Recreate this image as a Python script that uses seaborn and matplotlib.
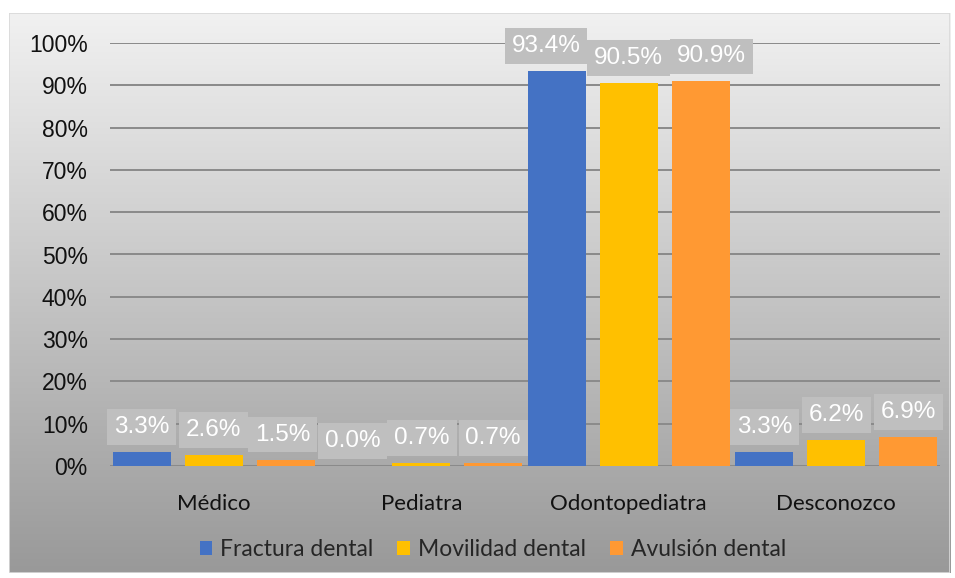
import numpy as np
import pandas as pd
import matplotlib
matplotlib.use("Agg")
import matplotlib.pyplot as plt
from matplotlib.patches import Patch, Rectangle
import seaborn as sns

categories = ["Médico", "Pediatra", "Odontopediatra", "Desconozco"]
series = ["Fractura dental", "Movilidad dental", "Avulsión dental"]
fractura = [3.3, 0.0, 93.4, 3.3]
movilidad = [2.6, 0.7, 90.5, 6.2]
avulsion = [1.5, 0.7, 90.9, 6.9]
colors = ["#4472C4", "#FFC000", "#FF9933"]
yticks = [0, 10, 20, 30, 40, 50, 60, 70, 80, 90, 100]
ytick_labels = [f"{v}%" for v in yticks]

rows = []
for s, vals in zip(series, [fractura, movilidad, avulsion]):
    for c, v in zip(categories, vals):
        rows.append({"cat": c, "serie": s, "val": v})
df = pd.DataFrame(rows)

sns.set_theme(style="white")
plt.rcParams["font.family"] = ["Liberation Sans", "DejaVu Sans"]

DPI = 100
W, H = 955, 578
fig = plt.figure(figsize=(W / DPI, H / DPI), dpi=DPI)
fig.patch.set_facecolor("white")

# gradient background of chart area
bx0, by0, bx1, by1 = 9, 13, 950, 573
bg = fig.add_axes([bx0 / W, 1 - by1 / H, (bx1 - bx0) / W, (by1 - by0) / H], zorder=-10)
grad = np.linspace(0, 1, 256).reshape(-1, 1)
top = np.array([0.945, 0.945, 0.945])
bot = np.array([0.60, 0.60, 0.60])
img = top[None, None, :] * (1 - grad[:, :, None]) + bot[None, None, :] * grad[:, :, None]
bg.imshow(img, aspect="auto", extent=[0, 1, 0, 1], origin="upper")
bg.set_xlim(0, 1); bg.set_ylim(0, 1)
bg.set_axis_off()
bg.add_patch(Rectangle((0, 0), 1, 1, transform=bg.transAxes, fill=False,
                       ec="#d9d9d9", lw=1.2))

ax_l, ax_r, ax_t, ax_b = 110, 940, 43, 466
ax = fig.add_axes([ax_l / W, 1 - ax_b / H, (ax_r - ax_l) / W, (ax_b - ax_t) / H], zorder=1)
ax.set_facecolor("none")

sns.barplot(data=df, x="cat", y="val", hue="serie", order=categories,
            hue_order=series, palette=colors, width=1.04, gap=0.19,
            saturation=1, ax=ax, legend=False, zorder=3,
            edgecolor="none", linewidth=0)

ax.set_ylim(0, 100)
ax.set_xlim(-0.5, 3.5)
ax.set_yticks(yticks)
ax.set_yticklabels(ytick_labels, fontsize=16.5, color="#111111")
ax.tick_params(axis="y", length=0, pad=16)
ax.tick_params(axis="x", length=0, pad=20)
ax.set_xticks(range(len(categories)))
ax.set_xticklabels(categories, fontsize=16, fontfamily=["Lato", "DejaVu Sans"], color="#111111")
ax.set_xlabel(""); ax.set_ylabel("")
for sp in ax.spines.values():
    sp.set_visible(False)
ax.yaxis.grid(True, color="#8a8a8a", lw=1.4, zorder=0)
ax.set_axisbelow(True)

# data labels
texts = []
for cont, vals in zip(ax.containers, [fractura, movilidad, avulsion]):
    for bar, v in zip(cont, vals):
        x = bar.get_x() + bar.get_width() / 2
        y = bar.get_height()
        t = ax.annotate(f"{v:.1f}%", xy=(x, y), xytext=(0, 18), textcoords="offset points",
                        ha="center", va="center", fontsize=17.5, color="white",
                        bbox=dict(boxstyle="square,pad=0.28", fc="#bfbfbf", ec="none"),
                        annotation_clip=False, zorder=5)
        texts.append(t)

# simple de-overlap of label boxes
fig.canvas.draw()
r = fig.canvas.get_renderer()
order = sorted(texts, key=lambda t: t.xy[0])
for _ in range(6):
    for a, b in zip(order[:-1], order[1:]):
        ea = a.get_bbox_patch().get_window_extent(r)
        eb = b.get_bbox_patch().get_window_extent(r)
        ov = ea.x1 - eb.x0
        vov = min(ea.y1, eb.y1) - max(ea.y0, eb.y0)
        if ov > 0 and vov > 0:
            d = (ov / 2 + 0.5) * 72 / DPI
            ax_, ay_ = a.xyann
            bx_, by_ = b.xyann
            a.xyann = (ax_ - d, ay_)
            b.xyann = (bx_ + d, by_)
    fig.canvas.draw()

handles = [Patch(facecolor=c, edgecolor="none") for c in colors]
fig.legend(handles, series, loc="center", bbox_to_anchor=(0.516, 1 - 550 / H), ncol=3,
           frameon=False, prop={"family": ["Lato", "DejaVu Sans"], "size": 16.5},
           handlelength=0.55, handleheight=0.55, handletextpad=0.35, columnspacing=1.05)

fig.savefig("out.png", dpi=DPI)
